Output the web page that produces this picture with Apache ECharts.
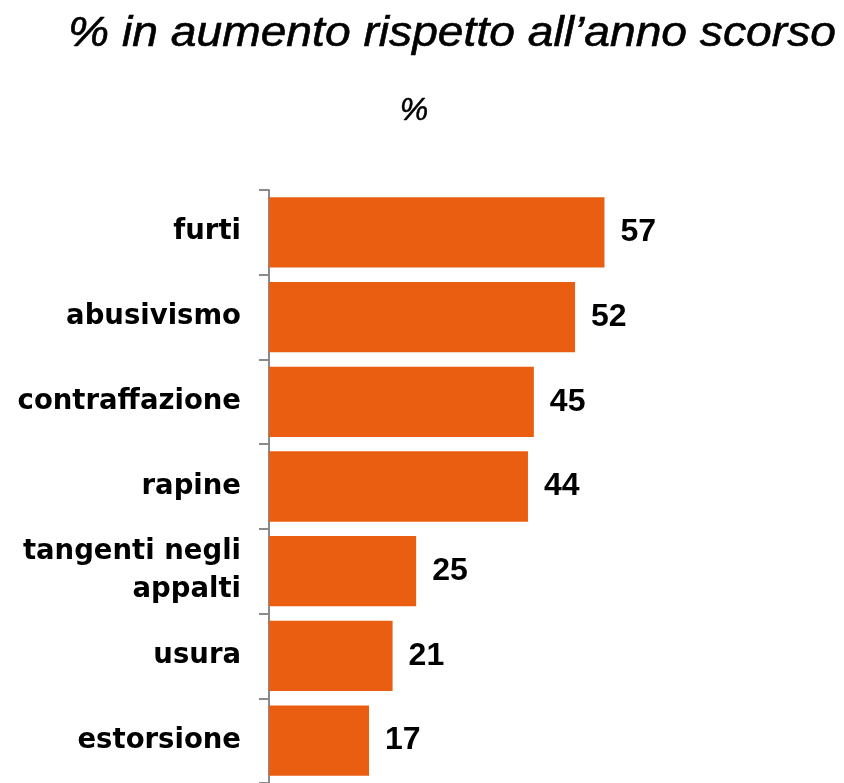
<!DOCTYPE html>
<html>
<head>
<meta charset="utf-8">
<script src="https://cdn.jsdelivr.net/npm/echarts@6/dist/echarts.min.js"></script>
<style>html,body{margin:0;padding:0;background:#fff}#c{width:844px;height:783px}</style>
</head>
<body>
<div id="c"></div>
<script>
const categories = ['furti', 'abusivismo', 'contraffazione', 'rapine', 'tangenti negli\nappalti', 'usura', 'estorsione'];
const values = [57, 52, 45, 44, 25, 21, 17];
const titleText = '% in aumento rispetto all\u2019anno scorso';
const subtitleText = '%';

const chart = echarts.init(document.getElementById('c'));
chart.setOption({
  animation: false,
  backgroundColor: '#fff',
  graphic: [
    { type: 'text', x: 452, y: 13, scaleX: 1.1,
      style: { text: titleText, textAlign: 'center', textVerticalAlign: 'top',
        font: 'italic 42px "Liberation Sans", Arial, sans-serif', fill: '#000',
        stroke: '#000', lineWidth: 0.6 } },
    { type: 'text', x: 414, y: 95,
      style: { text: subtitleText, textAlign: 'center', textVerticalAlign: 'top',
        font: 'italic 32px "Liberation Sans", Arial, sans-serif', fill: '#000',
        stroke: '#000', lineWidth: 0.5 } }
  ],
  grid: { left: 269, right: 163, top: 190, bottom: 0, containLabel: false },
  xAxis: { type: 'value', min: 0, max: 70, show: false },
  yAxis: {
    type: 'category', data: categories, inverse: true,
    axisLine: { show: true, lineStyle: { color: '#8a8a8a', width: 2 } },
    axisTick: { show: true, length: 10, lineStyle: { color: '#8a8a8a', width: 2 } },
    axisLabel: { margin: 28, fontFamily: 'DejaVu Sans', fontWeight: 'bold', fontSize: 27.5, color: '#000', lineHeight: 38, align: 'right' },
    splitLine: { show: false }
  },
  series: [{
    type: 'bar', data: values, barCategoryGap: '17%',
    itemStyle: { color: '#EA5E11' },
    label: { show: true, position: 'right', distance: 16, fontFamily: 'Liberation Sans', fontWeight: 'bold', fontSize: 32, color: '#000' }
  }]
});
</script>
</body>
</html>
